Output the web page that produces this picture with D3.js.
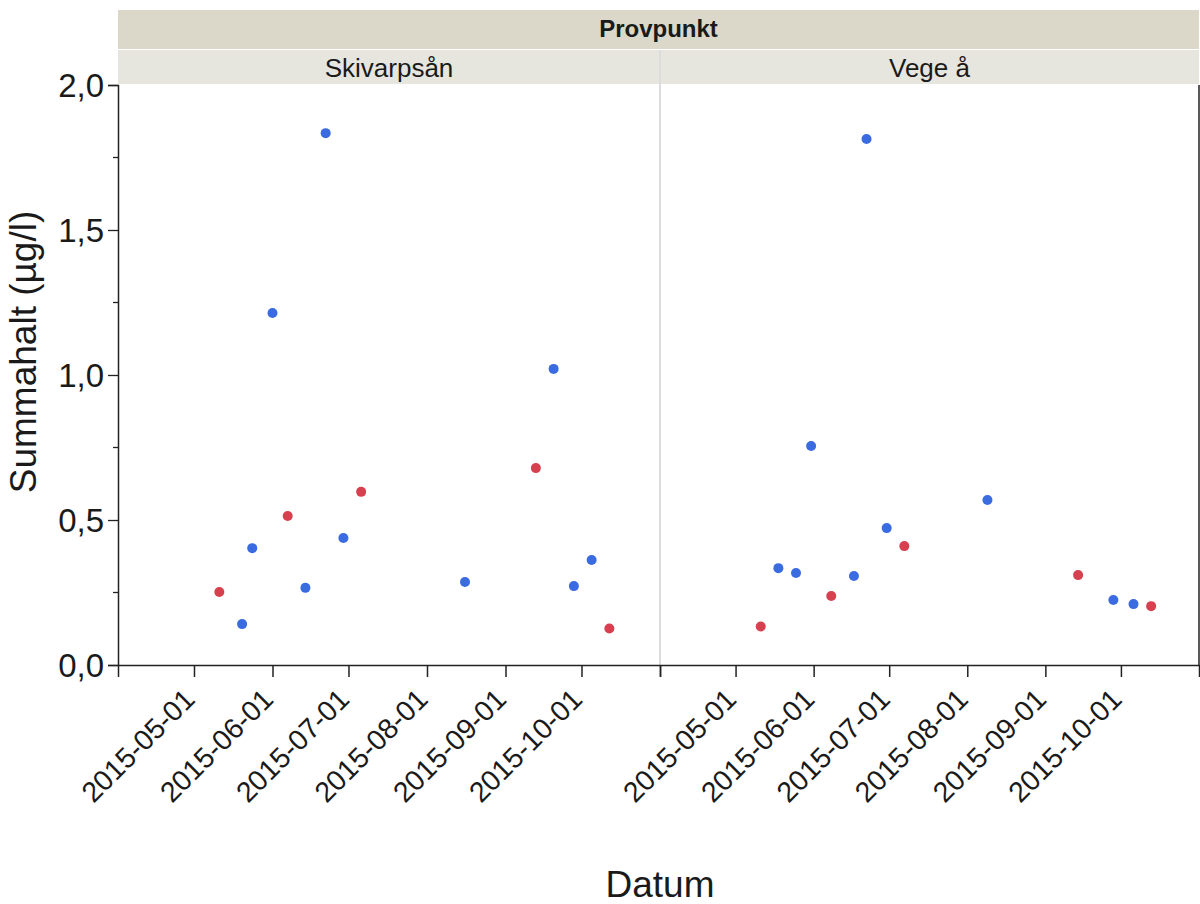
<!DOCTYPE html>
<html lang="sv">
<head>
<meta charset="utf-8">
<title>Summahalt per provpunkt</title>
<script src="https://cdnjs.cloudflare.com/ajax/libs/d3/7.8.5/d3.min.js"></script>
<style>
  body { margin: 0; background: #fff; }
  text { font-family: "Liberation Sans", Arial, sans-serif; fill: #1a1a1a; }
</style>
</head>
<body>
<script>
// panels (facets)
var panels = ["Skivarpsån", "Vege å"];

// Skivarpsån samples
var skivDates  = ["2015-05-11","2015-05-20","2015-05-24","2015-06-01","2015-06-07","2015-06-14","2015-06-22","2015-06-29","2015-07-06","2015-08-16","2015-09-13","2015-09-20","2015-09-28","2015-10-05","2015-10-12"];
var skivValues = [0.252, 0.141, 0.403, 1.214, 0.514, 0.266, 1.834, 0.438, 0.597, 0.286, 0.679, 1.021, 0.272, 0.362, 0.126];
var skivGroup  = ["r","b","b","b","r","b","b","b","r","b","r","b","b","b","r"];

// Vege å samples
var vegeDates  = ["2015-05-11","2015-05-18","2015-05-25","2015-05-31","2015-06-08","2015-06-17","2015-06-22","2015-06-30","2015-07-07","2015-08-09","2015-09-14","2015-09-28","2015-10-06","2015-10-13"];
var vegeValues = [0.133, 0.334, 0.317, 0.755, 0.238, 0.307, 1.814, 0.472, 0.41, 0.569, 0.31, 0.224, 0.21, 0.203];
var vegeGroup  = ["r","b","b","b","r","b","b","b","r","b","r","b","b","r"];

var yTicks = [0, 0.5, 1.0, 1.5, 2.0];
var yMinor = [0.25, 0.75, 1.25, 1.75];
var xTickLabels = ["2015-05-01","2015-06-01","2015-07-01","2015-08-01","2015-09-01","2015-10-01"];

var colors = { r: "#d6404f", b: "#3b6be0" };

var parse = d3.timeParse("%Y-%m-%d");
var W = 1200, H = 904;
var plotL = 118, plotR = 1199, mid = 660, plotT = 85, plotB = 665;

var svg = d3.select("body").append("svg")
    .attr("width", W).attr("height", H);

var y = d3.scaleLinear().domain([0, 2]).range([plotB, plotT]);

var xDomain = [parse("2015-04-01"), parse("2015-11-01")];
var xs = [
  d3.scaleTime().domain(xDomain).range([plotL, mid]),
  d3.scaleTime().domain(xDomain).range([mid, plotR])
];

var data = [
  skivDates.map(function(d, i) { return { date: parse(d), v: skivValues[i], g: skivGroup[i] }; }),
  vegeDates.map(function(d, i) { return { date: parse(d), v: vegeValues[i], g: vegeGroup[i] }; })
];

// strip headers
svg.append("rect").attr("x", plotL).attr("y", 10).attr("width", plotR - plotL).attr("height", 39)
  .attr("fill", "#dbd8ca");
svg.append("text").attr("x", (plotL + plotR) / 2).attr("y", 37)
  .attr("text-anchor", "middle").attr("font-size", 24).attr("font-weight", "bold")
  .text("Provpunkt");

panels.forEach(function(p, i) {
  var r = xs[i].range();
  svg.append("rect").attr("x", r[0] + (i ? 1 : 0)).attr("y", 50)
    .attr("width", r[1] - r[0] - 1).attr("height", 34)
    .attr("fill", "#e7e6de");
  svg.append("text").attr("x", (r[0] + r[1]) / 2).attr("y", 77)
    .attr("text-anchor", "middle").attr("font-size", 26)
    .text(p);
});

// divider between panels
svg.append("line").attr("x1", mid).attr("x2", mid).attr("y1", 50).attr("y2", plotB)
  .attr("stroke", "#dcdcdc").attr("stroke-width", 2);
// right border
svg.append("line").attr("x1", plotR).attr("x2", plotR).attr("y1", plotT).attr("y2", plotB)
  .attr("stroke", "#222").attr("stroke-width", 1.5);

// y axis
var yAxis = d3.axisLeft(y).tickValues(yTicks).tickSize(10).tickPadding(4)
  .tickFormat(function(d) { return d3.format(".1f")(d).replace(".", ","); });
var gy = svg.append("g").attr("transform", "translate(" + plotL + ",0)").call(yAxis);
gy.select(".domain").attr("stroke", "#222").attr("stroke-width", 1.5);
gy.selectAll(".tick line").attr("stroke", "#222").attr("stroke-width", 1.3);
gy.selectAll(".tick text").attr("font-size", 33).attr("fill", "#1a1a1a")
  .attr("font-family", "Liberation Sans, Arial, sans-serif").attr("dy", "0.36em");
gy.selectAll(".minor").data(yMinor).enter().append("line")
  .attr("class", "minor").attr("x1", -5).attr("x2", 0)
  .attr("y1", function(d) { return y(d); }).attr("y2", function(d) { return y(d); })
  .attr("stroke", "#222").attr("stroke-width", 1.3);

// x axes
xs.forEach(function(x, i) {
  var ticks = d3.timeMonth.range(xDomain[0], d3.timeDay.offset(xDomain[1], 1));
  var ax = d3.axisBottom(x).tickValues(ticks).tickSize(12).tickSizeOuter(0)
    .tickFormat(function(d) {
      var s = d3.timeFormat("%Y-%m-%d")(d);
      return xTickLabels.indexOf(s) >= 0 ? s : "";
    });
  var g = svg.append("g").attr("transform", "translate(0," + plotB + ")").call(ax);
  g.select(".domain").attr("stroke", "#222").attr("stroke-width", 1.5);
  g.selectAll(".tick line").attr("stroke", "#222").attr("stroke-width", 1.5);
  g.selectAll(".tick text").attr("font-size", 28.5).attr("fill", "#1a1a1a")
    .attr("font-family", "Liberation Sans, Arial, sans-serif")
    .attr("text-anchor", "end").attr("dy", 0).attr("y", 0)
    .attr("transform", "translate(2,36) rotate(-45)");
});

// points
data.forEach(function(rows, i) {
  svg.append("g").selectAll("circle").data(rows).enter().append("circle")
    .attr("cx", function(d) { return xs[i](d.date); })
    .attr("cy", function(d) { return y(d.v); })
    .attr("r", 5)
    .attr("fill", function(d) { return colors[d.g]; });
});

// axis titles
svg.append("text").attr("transform", "translate(36,352) rotate(-90)")
  .attr("text-anchor", "middle").attr("font-size", 37).text("Summahalt (µg/l)");
svg.append("text").attr("x", mid).attr("y", 897)
  .attr("text-anchor", "middle").attr("font-size", 37).text("Datum");
</script>
</body>
</html>
